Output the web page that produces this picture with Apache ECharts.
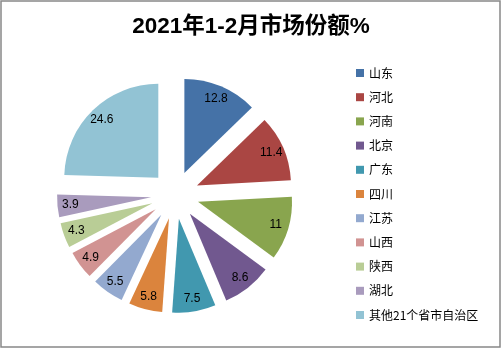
<!DOCTYPE html>
<html>
<head>
<meta charset="utf-8">
<script src="https://cdn.jsdelivr.net/npm/echarts@6/dist/echarts.min.js"></script>
<style>
  html, body { margin: 0; padding: 0; background: #fff; }
  #chart { width: 502px; height: 349px; }
</style>
</head>
<body>
<div id="chart"></div>
<script>
// Market share by region, Jan-Feb 2021 (%)
const titleText = '2021年1-2月市场份额%';
const regions = ['山东', '河北', '河南', '北京', '广东', '四川', '江苏', '山西', '陕西', '湖北', '其他21个省市自治区'];
const shares = [12.8, 11.4, 11, 8.6, 7.5, 5.8, 5.5, 4.9, 4.3, 3.9, 24.6];
const palette = ['#4572A7', '#AA4643', '#89A54E', '#71588F', '#4198AF', '#DB843D',
                 '#93A9CF', '#D19392', '#B9CD96', '#A99BBD', '#92C3D4'];

const cjkFont = '"Liberation Sans", "Noto Sans CJK SC", sans-serif';

function sliceData(withColor) {
  return regions.map((name, i) => ({
    name: name,
    value: shares[i],
    selected: true,
    itemStyle: withColor ? { color: palette[i] } : { color: 'rgba(0,0,0,0)' }
  }));
}

const chart = echarts.init(document.getElementById('chart'), null, { renderer: 'canvas' });

chart.setOption({
  animation: false,
  color: palette,
  title: {
    text: titleText,
    left: 'center',
    top: 11,
    textStyle: {
      fontSize: 22.5,
      fontWeight: 'bold',
      color: '#000',
      fontFamily: cjkFont
    }
  },
  legend: {
    orient: 'vertical',
    left: 351,
    top: 61,
    itemWidth: 8,
    itemHeight: 8,
    itemGap: 10.2,
    icon: 'rect',
    selectedMode: false,
    data: regions,
    textStyle: {
      fontSize: 12,
      lineHeight: 14,
      color: '#000',
      fontFamily: '"Noto Sans CJK SC", sans-serif'
    }
  },
  graphic: [{
    type: 'rect',
    shape: { x: 1, y: 1, width: 499, height: 346 },
    style: { fill: 'none', stroke: '#888', lineWidth: 1.5 },
    silent: true
  }],
  series: [
    {
      // exploded slices
      type: 'pie',
      center: [175, 195],
      radius: [0, 94],
      startAngle: 90,
      clockwise: true,
      selectedMode: 'multiple',
      selectedOffset: 24,
      avoidLabelOverlap: false,
      label: { show: false },
      labelLine: { show: false },
      emphasis: { disabled: true },
      select: { itemStyle: {} },
      data: sliceData(true)
    },
    {
      // transparent ring carrying the value labels further out in each slice
      type: 'pie',
      center: [175, 195],
      radius: [62, 94],
      startAngle: 90,
      clockwise: true,
      selectedMode: 'multiple',
      selectedOffset: 24,
      avoidLabelOverlap: false,
      silent: true,
      z: 3,
      label: {
        show: true,
        position: 'inside',
        formatter: p => String(p.value),
        color: '#000',
        fontSize: 12,
        fontFamily: '"Liberation Sans", sans-serif'
      },
      labelLine: { show: false },
      emphasis: { disabled: true },
      data: sliceData(false)
    }
  ]
});
</script>
</body>
</html>
